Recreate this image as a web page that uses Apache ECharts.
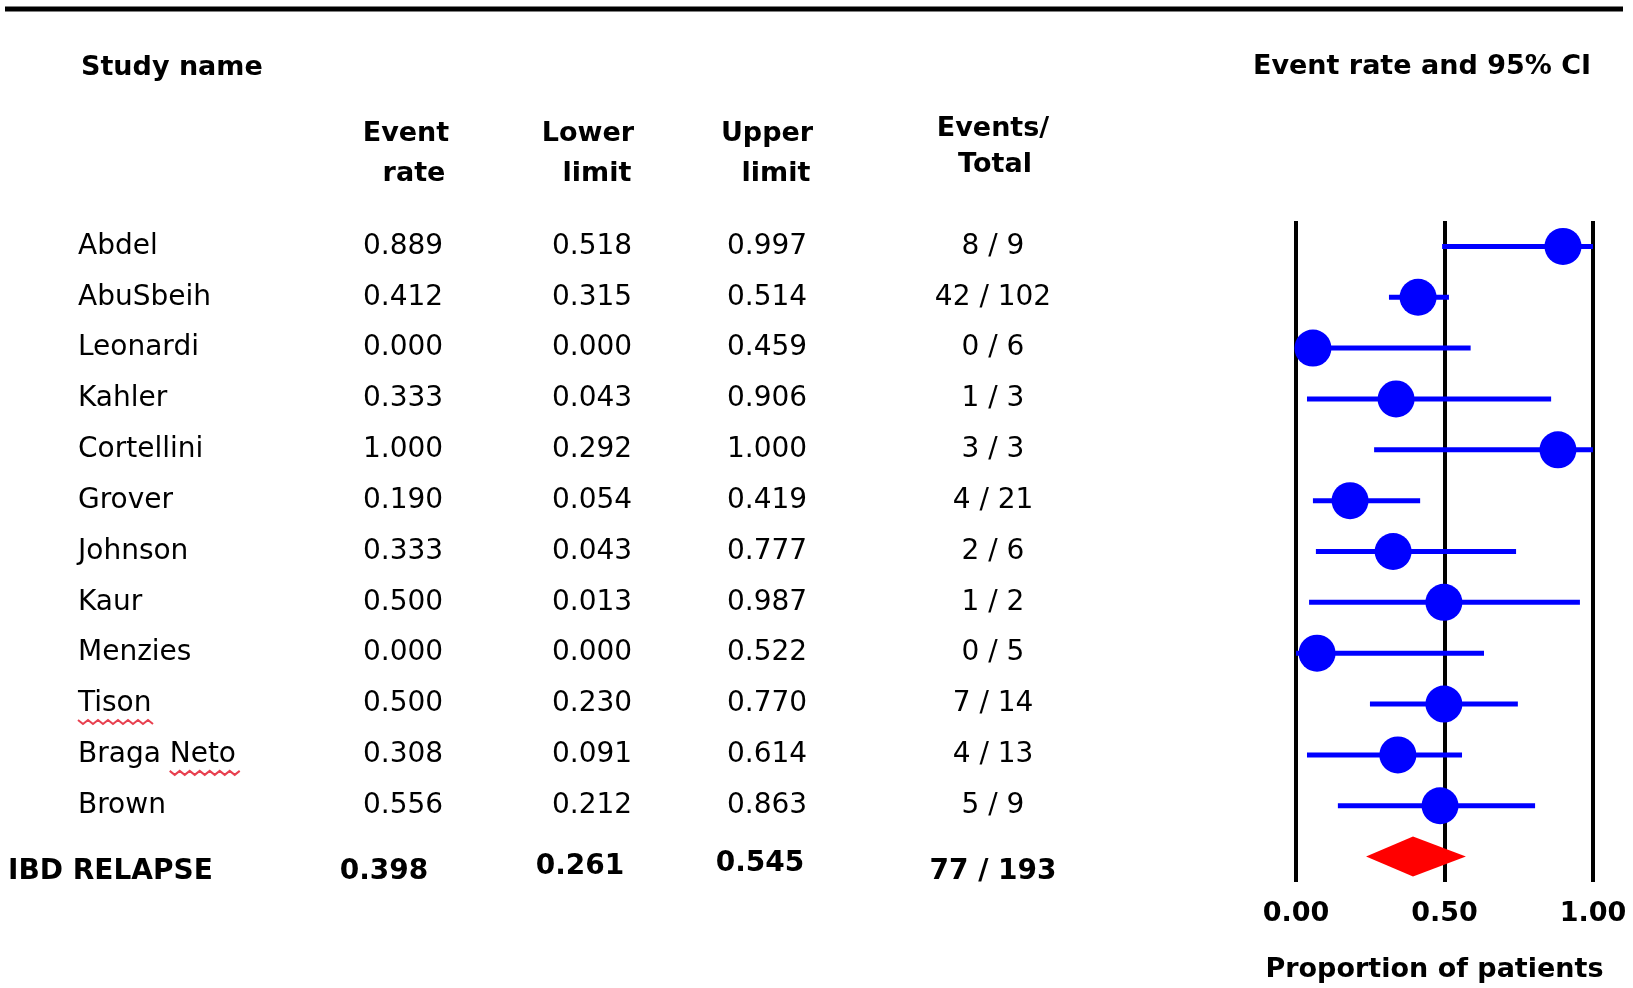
<!DOCTYPE html>
<html>
<head>
<meta charset="utf-8">
<script src="https://cdn.jsdelivr.net/npm/echarts@6/dist/echarts.min.js"></script>
<style>
  html, body { margin: 0; padding: 0; background: #fff; }
  #main { width: 1633px; height: 988px; }
</style>
</head>
<body>
<div id="main"></div>
<script>
// 研究名称
const studies = ['Abdel', 'AbuSbeih', 'Leonardi', 'Kahler', 'Cortellini', 'Grover', 'Johnson', 'Kaur', 'Menzies', 'Tison', 'Braga Neto', 'Brown'];
// 表格文字
const eventRateText = ['0.889', '0.412', '0.000', '0.333', '1.000', '0.190', '0.333', '0.500', '0.000', '0.500', '0.308', '0.556'];
const lowerText = ['0.518', '0.315', '0.000', '0.043', '0.292', '0.054', '0.043', '0.013', '0.000', '0.230', '0.091', '0.212'];
const upperText = ['0.997', '0.514', '0.459', '0.906', '1.000', '0.419', '0.777', '0.987', '0.522', '0.770', '0.614', '0.863'];
const eventsTotalText = ['8 / 9', '42 / 102', '0 / 6', '1 / 3', '3 / 3', '4 / 21', '2 / 6', '1 / 2', '0 / 5', '7 / 14', '4 / 13', '5 / 9'];
// 图上读出的点和区间
const pointEst = [0.899, 0.411, 0.057, 0.337, 0.882, 0.182, 0.327, 0.498, 0.071, 0.498, 0.343, 0.485];
const ciLow = [0.492, 0.313, 0.0, 0.037, 0.263, 0.057, 0.067, 0.044, 0.0, 0.249, 0.037, 0.141];
const ciHigh = [1.0, 0.515, 0.588, 0.859, 1.0, 0.418, 0.741, 0.956, 0.633, 0.747, 0.559, 0.805];
// 合并结果
const summaryName = 'IBD RELAPSE';
const summaryText = ['0.398', '0.261', '0.545', '77 / 193'];
const summaryPlot = [0.236, 0.394, 0.572]; // 下限, 估计, 上限
const xTicks = ['0.00', '0.50', '1.00'];
// 拼写检查的红色波浪线
const squiggleWords = ['Tison', 'Neto'];

const rows = studies.concat([summaryName]);
const FONT = 'DejaVu Sans';

let myChart = echarts.init(document.getElementById('main'));

let measureCtx = document.createElement('canvas').getContext('2d');
function textWidth(s, font) {
  measureCtx.font = font;
  return measureCtx.measureText(s).width;
}

function txt(x, y, text, align, bold, size) {
  return {
    type: 'text',
    x: x, y: y,
    style: {
      text: text,
      fill: '#000',
      font: (bold ? 'bold ' : '') + (size || 28) + 'px "' + FONT + '"',
      align: align || 'left',
      verticalAlign: 'middle'
    }
  };
}

// 名字下面的波浪线
function squiggles(x0, y, name) {
  let font = '28px "' + FONT + '"';
  let out = [];
  let words = name.split(' ');
  let x = x0;
  words.forEach(function (w) {
    let wWidth = textWidth(w, font);
    if (squiggleWords.indexOf(w) >= 0) {
      let pts = [];
      let k = 0;
      for (let px = x; px <= x + wWidth + 4; px += 5) {
        pts.push([px, y + 16 + (k % 2 === 0 ? 0 : 4)]);
        k++;
      }
      out.push({ type: 'polyline', shape: { points: pts }, style: { stroke: '#e8404f', lineWidth: 2, fill: null } });
    }
    x += wWidth + textWidth(' ', font);
  });
  return out;
}

let option = {
  animation: false,
  backgroundColor: '#fff',
  grid: { left: 1296, width: 297, top: 221, height: 666 },
  xAxis: {
    type: 'value',
    min: 0,
    max: 1,
    interval: 0.5,
    axisLine: { show: false },
    axisTick: { show: false },
    splitLine: { show: true, lineStyle: { color: '#000', width: 4 } },
    axisLabel: {
      margin: 18,
      formatter: function (v) { return xTicks[Math.round(v * 2)]; },
      color: '#000',
      fontFamily: FONT,
      fontWeight: 'bold',
      fontSize: 27
    },
    name: 'Proportion of patients',
    nameLocation: 'middle',
    nameGap: 74,
    nameTextStyle: { color: '#000', fontFamily: FONT, fontWeight: 'bold', fontSize: 27, padding: [0, 20, 0, 0] }
  },
  yAxis: {
    type: 'category',
    data: rows,
    inverse: true,
    show: false
  },
  graphic: [
    { type: 'line', shape: { x1: 5, y1: 9, x2: 1623, y2: 9 }, style: { stroke: '#000', lineWidth: 5 } },
    txt(81, 68, 'Study name', 'left', true, 27),
    txt(1422, 67, 'Event rate and 95% CI', 'center', true, 27),
    txt(406, 134, 'Event', 'center', true, 27),
    txt(414, 174, 'rate', 'center', true, 27),
    txt(588, 134, 'Lower', 'center', true, 27),
    txt(597, 174, 'limit', 'center', true, 27),
    txt(767, 134, 'Upper', 'center', true, 27),
    txt(776, 174, 'limit', 'center', true, 27),
    txt(993, 129, 'Events/', 'center', true, 27),
    txt(995, 165, 'Total', 'center', true, 27)
  ],
  series: [
    {
      // 表格文字
      type: 'custom',
      clip: false,
      silent: true,
      data: rows.map(function (r, i) { return [0, i]; }),
      renderItem: function (params, api) {
        let i = api.value(1);
        let y = api.coord([0, i])[1];
        if (i < studies.length) {
          return {
            type: 'group',
            children: [
              txt(78, y, studies[i], 'left', false),
              txt(403, y, eventRateText[i], 'center', false),
              txt(592, y, lowerText[i], 'center', false),
              txt(767, y, upperText[i], 'center', false),
              txt(993, y, eventsTotalText[i], 'center', false)
            ].concat(squiggles(78, y, studies[i]))
          };
        }
        let ys = y + 15;
        return {
          type: 'group',
          children: [
            txt(8, ys, summaryName, 'left', true),
            txt(384, ys, summaryText[0], 'center', true),
            txt(580, ys - 5, summaryText[1], 'center', true),
            txt(760, ys - 8, summaryText[2], 'center', true),
            txt(993, ys, summaryText[3], 'center', true)
          ]
        };
      },
      z: 1
    },
    {
      // 置信区间
      type: 'custom',
      clip: false,
      data: studies.map(function (s, i) { return [ciLow[i], ciHigh[i], i]; }),
      renderItem: function (params, api) {
        let p1 = api.coord([api.value(0), api.value(2)]);
        let p2 = api.coord([api.value(1), api.value(2)]);
        return {
          type: 'line',
          shape: { x1: p1[0], y1: p1[1], x2: p2[0], y2: p2[1] },
          style: { stroke: '#0000ff', lineWidth: 5 }
        };
      },
      z: 3
    },
    {
      type: 'scatter',
      symbol: 'circle',
      symbolSize: 37,
      itemStyle: { color: '#0000ff', opacity: 1 },
      data: studies.map(function (s, i) { return [pointEst[i], i]; }),
      z: 4
    },
    {
      // 合并菱形
      type: 'custom',
      clip: false,
      data: [[summaryPlot[0], summaryPlot[1], summaryPlot[2], studies.length]],
      renderItem: function (params, api) {
        let row = api.value(3);
        let l = api.coord([api.value(0), row]);
        let c = api.coord([api.value(1), row]);
        let r = api.coord([api.value(2), row]);
        let h = 20;
        return {
          type: 'polygon',
          shape: { points: [[l[0], l[1]], [c[0], c[1] - h], [r[0], r[1]], [c[0], c[1] + h]] },
          style: { fill: '#ff0000' }
        };
      },
      z: 5
    }
  ]
};

myChart.setOption(option, true);
</script>
</body>
</html>
